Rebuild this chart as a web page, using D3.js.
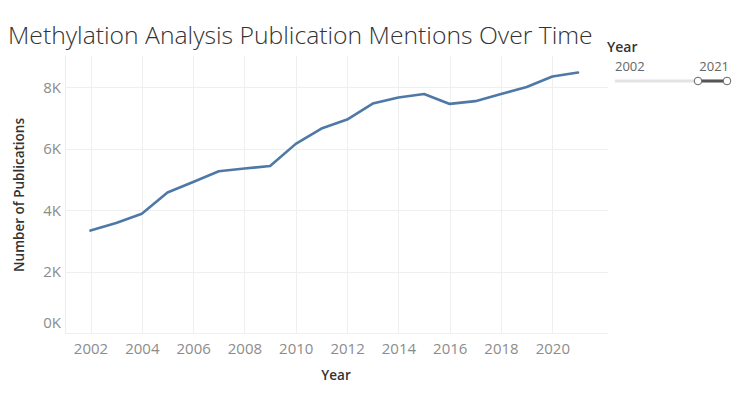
<!DOCTYPE html>
<html><head><meta charset="utf-8">
<script src="https://cdn.jsdelivr.net/npm/d3@7"></script>
<style>body{margin:0;background:#fff;} svg{display:block;}</style>
</head><body>
<svg id="c" width="743" height="397"></svg>
<script>
const years = [2002,2003,2004,2005,2006,2007,2008,2009,2010,2011,2012,2013,2014,2015,2016,2017,2018,2019,2020,2021];
const publications = [3330,3580,3880,4570,4910,5260,5350,5430,6150,6650,6940,7460,7660,7770,7450,7540,7770,8000,8340,8470];
const xTicks = [2002,2004,2006,2008,2010,2012,2014,2016,2018,2020];
const yTicks = [0,2000,4000,6000,8000];
const title = "Methylation Analysis Publication Mentions Over Time";
const sliderRange = [2002, 2021];

(function () {
const svg = d3.select("#c");
const pLeft = 65, pRight = 608, pTop = 56, pBottom = 333;
const font = "'Open Sans', 'Noto Sans', sans-serif";

const x = d3.scaleLinear().domain([2002, 2021]).range([90.5, 578]);
const y = d3.scaleLinear().domain([0, 8000]).range([pBottom, 87]);

// gridlines
svg.append("g").selectAll("line").data(yTicks).join("line")
  .attr("x1", pLeft).attr("x2", pRight)
  .attr("y1", d => Math.round(y(d)) + 0.5).attr("y2", d => Math.round(y(d)) + 0.5)
  .attr("stroke", "#efefef").attr("stroke-width", 1);
svg.append("g").selectAll("line").data(xTicks).join("line")
  .attr("x1", d => Math.round(x(d)) + 0.5).attr("x2", d => Math.round(x(d)) + 0.5)
  .attr("y1", pTop).attr("y2", pBottom)
  .attr("stroke", "#efefef").attr("stroke-width", 1);
svg.append("line").attr("x1", pLeft + 0.5).attr("x2", pLeft + 0.5).attr("y1", pTop).attr("y2", pBottom)
  .attr("stroke", "#ececec");

// axes
const yAxis = svg.append("g").attr("transform", `translate(${pLeft - 4},0)`)
  .call(d3.axisLeft(y).tickValues(yTicks).tickSize(0).tickPadding(0)
    .tickFormat(d => (d / 1000) + "K"));
yAxis.select(".domain").remove();
yAxis.selectAll("text").attr("font-family", font).attr("font-size", 15).attr("fill", "#8c8c8c")
  .attr("dy", (d) => d === 0 ? "-0.4em" : "0.35em");

const xAxis = svg.append("g").attr("transform", `translate(0,${pBottom})`)
  .call(d3.axisBottom(x).tickValues(xTicks).tickSize(0).tickPadding(10).tickFormat(d3.format("d")));
xAxis.select(".domain").remove();
xAxis.selectAll("text").attr("font-family", font).attr("font-size", 15).attr("fill", "#8c8c8c");

// line
const line = d3.line().x((d, i) => x(years[i])).y(d => y(d));
svg.append("path").datum(publications).attr("d", line)
  .attr("fill", "none").attr("stroke", "#4e79a7").attr("stroke-width", 2.6)
  .attr("stroke-linejoin", "round").attr("stroke-linecap", "round");

// titles
const t = svg.append("text").attr("x", 8).attr("y", 44).text(title)
  .attr("font-family", font).attr("font-weight", 300).attr("font-size", 25).attr("fill", "#333");
const tw = t.node().getComputedTextLength();
t.attr("font-size", 25 * 585 / tw);

svg.append("text").attr("transform", "translate(24,195) rotate(-90)")
  .attr("text-anchor", "middle").text("Number of Publications")
  .attr("font-family", font).attr("font-size", 13.5).attr("font-weight", 600).attr("fill", "#333");
svg.append("text").attr("x", 336).attr("y", 380).attr("text-anchor", "middle").text("Year")
  .attr("font-family", font).attr("font-size", 13.5).attr("font-weight", 600).attr("fill", "#333");

// slider legend
svg.append("text").attr("x", 607).attr("y", 52).text("Year")
  .attr("font-family", font).attr("font-size", 14).attr("font-weight", 600).attr("fill", "#333");
svg.append("text").attr("x", 615).attr("y", 71).text(sliderRange[0])
  .attr("font-family", font).attr("font-size", 13).attr("fill", "#666");
svg.append("text").attr("x", 729).attr("y", 71).attr("text-anchor", "end").text(sliderRange[1])
  .attr("font-family", font).attr("font-size", 13).attr("fill", "#666");
const sx = d3.scaleLinear().domain([2002, 2021]).range([615, 727]);
svg.append("line").attr("x1", sx(2002)).attr("x2", sx(2021)).attr("y1", 81).attr("y2", 81)
  .attr("stroke", "#e3e3e3").attr("stroke-width", 3);
svg.append("line").attr("x1", 698).attr("x2", sx(2021)).attr("y1", 81).attr("y2", 81)
  .attr("stroke", "#555").attr("stroke-width", 3);
[698, sx(2021)].forEach(cx => {
  svg.append("circle").attr("cx", cx).attr("cy", 81).attr("r", 3.8)
    .attr("fill", "#fff").attr("stroke", "#666").attr("stroke-width", 1);
});
})();
</script>
</body></html>
